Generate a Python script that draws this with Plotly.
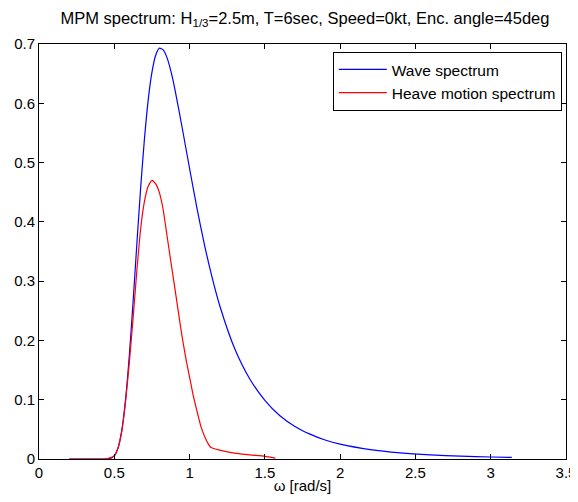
import plotly.graph_objects as go

# wave spectrum (MPM)
wave_omega = [0.2, 0.3, 0.4, 0.425, 0.45, 0.475, 0.5, 0.525, 0.55, 0.575, 0.6,
              0.625, 0.65, 0.675, 0.7, 0.725, 0.75, 0.775, 0.8, 0.825, 0.85,
              0.875, 0.9, 0.95, 1.0, 1.05, 1.1, 1.15, 1.2, 1.3, 1.4, 1.5, 1.6,
              1.7, 1.8, 1.9, 2.0, 2.2, 2.4, 2.6, 2.8, 3.0, 3.14]
wave_s = [0.0, 0.0, 0.0, 0.0, 0.0001, 0.001, 0.0053, 0.0187, 0.0487, 0.101, 0.175,
          0.266, 0.363, 0.457, 0.539, 0.605, 0.652, 0.681, 0.693, 0.690, 0.677,
          0.655, 0.627, 0.560, 0.490, 0.422, 0.360, 0.306, 0.259, 0.186, 0.135,
          0.099, 0.073, 0.055, 0.042, 0.032, 0.025, 0.0158, 0.0103, 0.0069,
          0.0048, 0.0034, 0.0027]

# heave motion spectrum
heave_omega = [0.2, 0.3, 0.4, 0.45, 0.5, 0.525, 0.55, 0.575, 0.6, 0.625, 0.65,
               0.675, 0.7, 0.725, 0.75, 0.775, 0.8, 0.825, 0.85, 0.875, 0.9,
               0.925, 0.95, 0.975, 1.0, 1.025, 1.05, 1.075, 1.1, 1.125, 1.14,
               1.2, 1.3, 1.4, 1.5, 1.57]
heave_s = [0.0, 0.0, 0.0, 0.0001, 0.0052, 0.0185, 0.047, 0.097, 0.163, 0.238,
           0.318, 0.388, 0.434, 0.460, 0.470, 0.464, 0.449, 0.420, 0.377,
           0.334, 0.292, 0.249, 0.207, 0.170, 0.138, 0.106, 0.080, 0.055,
           0.038, 0.025, 0.020, 0.015, 0.010, 0.007, 0.0045, 0.0015]

x_ticks = [0, 0.5, 1, 1.5, 2, 2.5, 3, 3.5]
x_labels = ['0', '0.5', '1', '1.5', '2', '2.5', '3', '3.5']
y_ticks = [0, 0.1, 0.2, 0.3, 0.4, 0.5, 0.6, 0.7]
y_labels = ['0', '0.1', '0.2', '0.3', '0.4', '0.5', '0.6', '0.7']

fig = go.Figure()
fig.add_scatter(x=wave_omega, y=wave_s, mode='lines', name='Wave spectrum',
                line=dict(color='#0000ff', width=1.2, shape='spline', smoothing=0.6))
fig.add_scatter(x=heave_omega, y=heave_s, mode='lines', name='Heave motion spectrum',
                line=dict(color='#ff0000', width=1.2, shape='spline', smoothing=0.5))

axis_common = dict(
    showline=True, linecolor='black', linewidth=1, mirror='ticks',
    ticks='inside', ticklen=5, tickcolor='black', showgrid=False, zeroline=False,
    tickfont=dict(size=15, color='black'), automargin=False,
    ticklabeloverflow='allow',
)

# page body adds an 8px margin; size the figure so the page does not scroll
fig.update_layout(
    width=570, height=486,
    margin=dict(l=31, r=12, t=36, b=35),
    paper_bgcolor='white', plot_bgcolor='white',
    font=dict(family='Liberation Sans, Arial, sans-serif', size=15, color='black'),
    title=dict(text='MPM spectrum: H<sub>1/3</sub>=2.5m, T=6sec, Speed=0kt, Enc. angle=45deg',
               x=0.521, xanchor='center', y=0.979, yanchor='middle',
               font=dict(size=16.5, color='black')),
    xaxis=dict(range=[0, 3.5], tickvals=x_ticks, ticktext=x_labels,
               title=dict(text='ω [rad/s]', standoff=2, font=dict(size=15)), **axis_common),
    yaxis=dict(range=[0, 0.7], tickvals=y_ticks, ticktext=y_labels, **axis_common),
    legend=dict(x=0.992, y=0.981, xanchor='right', yanchor='top',
                bgcolor='white', bordercolor='black', borderwidth=1,
                font=dict(size=15.5), tracegroupgap=0, itemwidth=48),
    showlegend=True,
)

fig.write_html("out.html")
